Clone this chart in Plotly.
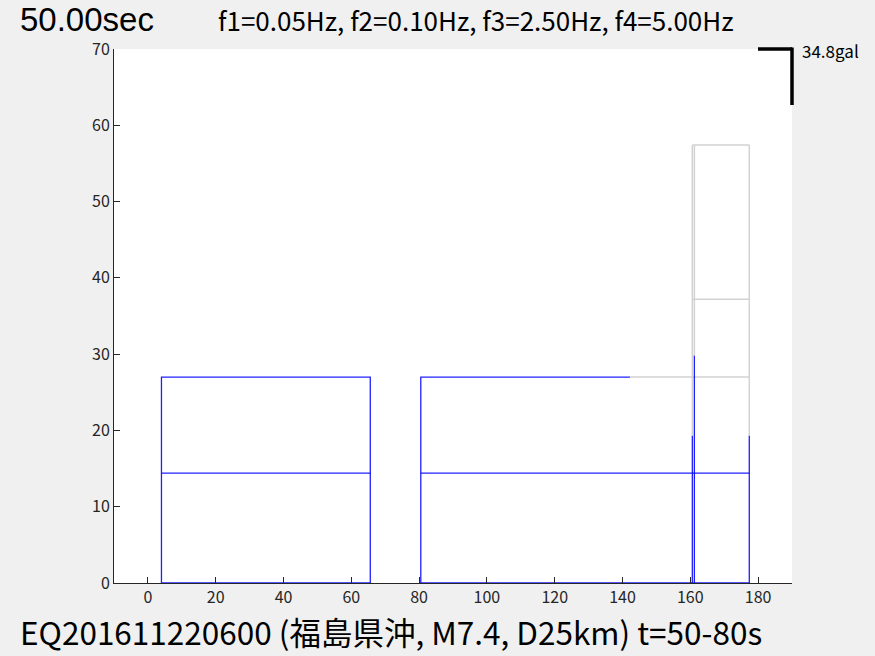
import plotly.graph_objects as go

# ---- data ----
# blue trace segments (x in plot units, y in plot units); None separates segments
blue_x = [4, 4, 65.6, 65.6, 4, None,
          4, 65.6, None,
          80.5, 80.5, 142.2, None,
          80.5, 177.4, None,
          80.5, 177.4, None,
          160.6, 160.6, None,
          161.2, 161.2, None,
          177.4, 177.4]
blue_y = [0, 27.0, 27.0, 0, 0, None,
          14.4, 14.4, None,
          0, 27.0, 27.0, None,
          0, 0, None,
          14.4, 14.4, None,
          0, 19.3, None,
          0, 29.8, None,
          0, 19.3]

gray_x = [142.2, 177.4, None,
          160.6, 160.6, None,
          161.2, 161.2, None,
          160.6, 177.4, None,
          160.6, 177.4, None,
          177.4, 177.4]
gray_y = [27.0, 27.0, None,
          19.3, 57.4, None,
          29.8, 57.4, None,
          57.4, 57.4, None,
          37.2, 37.2, None,
          19.3, 57.4]

x_ticks = [0, 20, 40, 60, 80, 100, 120, 140, 160, 180]
y_ticks = [0, 10, 20, 30, 40, 50, 60, 70]
x_range = [-10, 190]
y_range = [0, 70]

time_label = "50.00sec"
filter_label = "f1=0.05Hz, f2=0.10Hz, f3=2.50Hz, f4=5.00Hz"
scale_label = "34.8gal"
event_label = "EQ201611220600 (福島県沖, M7.4, D25km) t=50-80s"

FONT = "Noto Sans CJK JP, Noto Sans, sans-serif"
TITLE_FONT = "Liberation Sans, Arial, sans-serif"
W, H = 875, 656
L, R, T, B = 114, 83, 49, 73
pw, ph = W - L - R, H - T - B


def px(xp):
    return (xp - L) / pw


def py(yp):
    return (H - B - yp) / ph


fig = go.Figure()
fig.add_trace(go.Scatter(x=gray_x, y=gray_y, mode="lines",
                         line=dict(color="#d2d2d2", width=1.5),
                         hoverinfo="skip", showlegend=False, cliponaxis=False))
fig.add_trace(go.Scatter(x=blue_x, y=blue_y, mode="lines",
                         line=dict(color="rgba(0,0,255,0.88)", width=1.3),
                         hoverinfo="skip", showlegend=False, cliponaxis=False))

fig.update_layout(
    width=W, height=H,
    margin=dict(l=L, r=R, t=T, b=B, pad=0),
    paper_bgcolor="#f0f0f0", plot_bgcolor="#ffffff",
    font=dict(family=FONT, color="#262626", size=16),
    showlegend=False,
    xaxis=dict(range=x_range, tickvals=x_ticks, ticks="inside", ticklen=6,
               tickcolor="#262626", showline=True, linecolor="#262626",
               linewidth=1, showgrid=False, zeroline=False, mirror=False,
               tickfont=dict(size=16, family=FONT, color="#262626")),
    yaxis=dict(range=y_range, tickvals=y_ticks, ticks="inside", ticklen=6,
               tickcolor="#262626", showline=True, linecolor="#262626",
               linewidth=1, showgrid=False, zeroline=False, mirror=False,
               tickfont=dict(size=16, family=FONT, color="#262626")),
)

# scale bar
fig.add_shape(type="line", xref="paper", yref="paper",
              x0=px(758), x1=px(792), y0=py(49), y1=py(49),
              line=dict(color="black", width=3.5))
fig.add_shape(type="line", xref="paper", yref="paper",
              x0=px(792), x1=px(792), y0=py(47.5), y1=py(105),
              line=dict(color="black", width=3.5))

fig.add_annotation(text=scale_label, xref="paper", yref="paper",
                   x=px(800), y=py(50), xanchor="left", yanchor="middle",
                   showarrow=False, font=dict(size=17, family=FONT, color="black"))
fig.add_annotation(text=time_label, xref="paper", yref="paper",
                   x=px(18), y=py(20), xanchor="left", yanchor="middle",
                   showarrow=False, font=dict(size=33, family=TITLE_FONT, color="black"))
fig.add_annotation(text=filter_label, xref="paper", yref="paper",
                   x=px(216), y=py(20), xanchor="left", yanchor="middle",
                   showarrow=False, font=dict(size=26, family=FONT, color="black"))
fig.add_annotation(text=event_label, xref="paper", yref="paper",
                   x=px(18), y=py(631), xanchor="left", yanchor="middle",
                   showarrow=False, font=dict(size=31.5, family=FONT, color="black"))

fig.write_html("out.html", config={"displayModeBar": False},
               post_script="document.body.style.margin='0';document.body.style.overflow='hidden';")
